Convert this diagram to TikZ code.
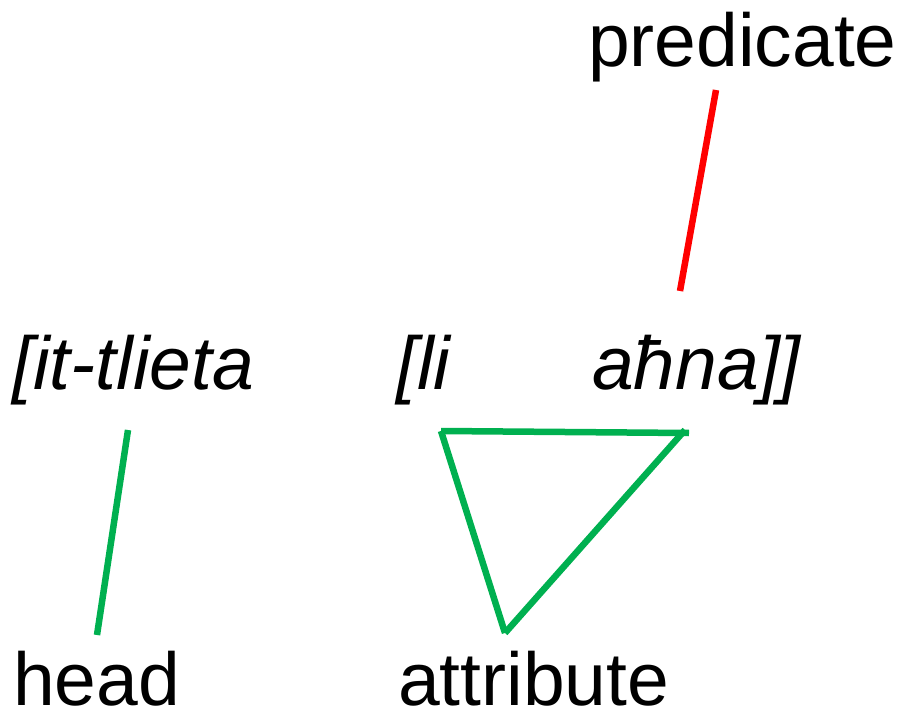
\documentclass[tikz,border=0pt]{standalone}
\usepackage{fontspec}
\setmainfont{Liberation Sans}
\usepackage{xcolor}
\usetikzlibrary{positioning}
\definecolor{linkgreen}{RGB}{0,176,80}

\begin{document}
\begin{tikzpicture}[
  x=1pt, y=-1pt,
  word/.style={anchor=base west, inner sep=0pt, font=\fontsize{75}{82}\selectfont\itshape},
  role/.style={anchor=base west, inner sep=0pt, font=\fontsize{75}{82}\selectfont},
  headlink/.style={draw=linkgreen, line width=6.5pt},
  predlink/.style={draw=red, line width=6.5pt}
]
  \useasboundingbox (0,0) rectangle (903,714);

  % words of the phrase
  \node[word] (tlieta) at (12,389) {[it-tlieta};
  \node[word] (li) at (396,389) {[li};
  \node[word] (ahna) at (592,389) {aħna]]};

  % role labels
  \node[role] (pred) at (588,67) {predicate};
  \node[role] (head) at (13,705) {head};
  \node[role] (attr) at (398,705) {attribute};

  % end points of the links
  \coordinate (predtop) at (716,90);
  \coordinate (predbot) at (680,291);
  \coordinate (headtop) at (128,430);
  \coordinate (headbot) at (97,635);
  \coordinate (tril) at (441,431);
  \coordinate (trir) at (689,433);
  \coordinate (trirb) at (685,430);
  \coordinate (trib) at (505,633);

  % predicate link
  \draw[predlink] (predtop) -- (predbot);

  % head link
  \draw[headlink] (headtop) -- (headbot);

  % attribute triangle
  \draw[headlink] (tril) -- (trir);
  \draw[headlink] (tril) -- (trib);
  \draw[headlink] (trib) -- (trirb);

\end{tikzpicture}
\end{document}
